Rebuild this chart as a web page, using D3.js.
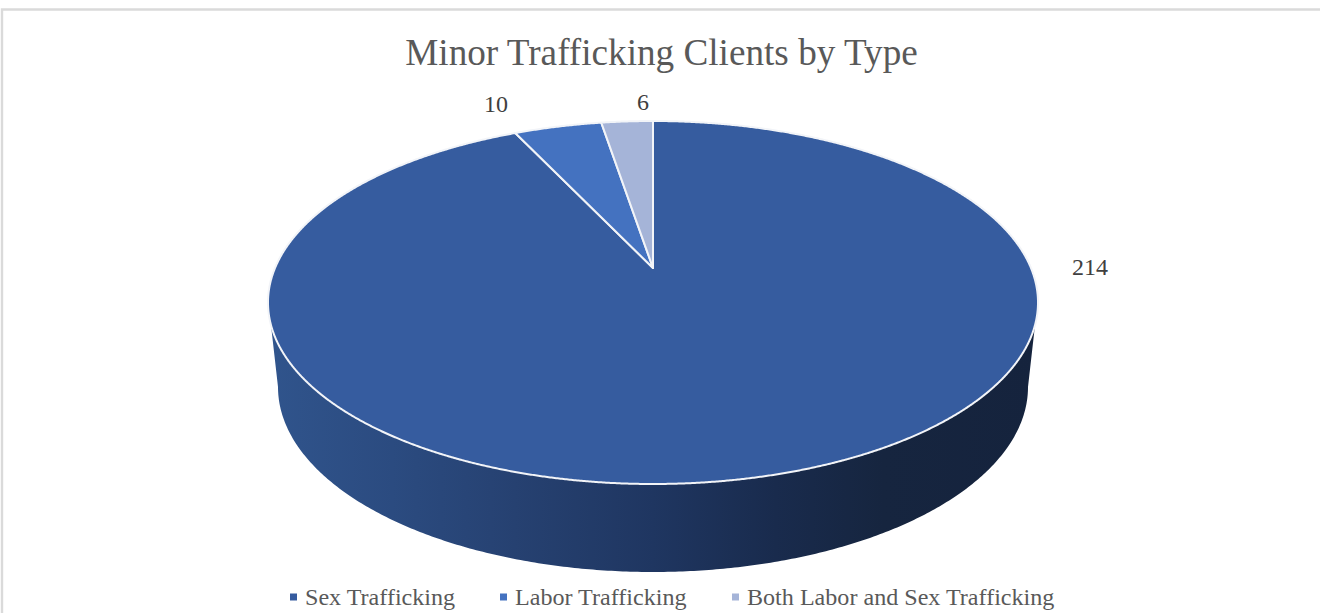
<!DOCTYPE html>
<html><head><meta charset="utf-8">
<script src="https://cdn.jsdelivr.net/npm/d3@7"></script>
<style>html,body{margin:0;padding:0;background:#fff}svg{display:block}text{font-family:"Liberation Serif",serif}</style>
</head><body><svg id="c" width="1320" height="613"></svg>
<script>
const titleText = "Minor Trafficking Clients by Type";
const categories = ["Sex Trafficking","Labor Trafficking","Both Labor and Sex Trafficking"];
const values = [214,10,6];
const colors = ["#365C9F","#4472C0","#A5B4D8"];
const legendX = [305,515,747];
const labelPos = [[1090,275],[496,112],[643,110]];

const svg = d3.select("#c");
const cx=653, face={cy:302.5,rx:385,ry:181.5}, base={cy:387,rx:375,ry:185};
const apex=[653,268];
const squeeze=0.82;
// pie angle -> ellipse parameter (foreshortened by the tilted view)
const warp=a=>{const t=Math.atan2(Math.sin(a)*squeeze,Math.cos(a));return t<0?t+2*Math.PI:t;};
const pt=(e,t)=>[cx+e.rx*Math.sin(t),e.cy-e.ry*Math.cos(t)];

const defs=svg.append("defs");
const g=defs.append("linearGradient").attr("id","side").attr("gradientUnits","userSpaceOnUse")
  .attr("x1",270).attr("x2",1036).attr("y1",0).attr("y2",0);
[[0,"#30548C"],[0.16,"#2B4B80"],[0.32,"#264171"],[0.5,"#1F3661"],[0.66,"#192B4D"],[0.8,"#16253F"],[1,"#15233D"]]
 .forEach(([o,c])=>g.append("stop").attr("offset",o).attr("stop-color",c));

// frame
svg.append("path").attr("d","M2,613V9.5H1320").attr("fill","none").attr("stroke","#DADADA").attr("stroke-width",2.4);

// side wall
const line=d3.line();
const a0=Math.acos(-(325-face.cy)/face.ry); // right joint parameter
const a1=2*Math.PI-a0;                      // left joint parameter
const b0=Math.PI/2, b1=3*Math.PI/2;
const wall=[...d3.range(a0,a1,0.01).map(t=>pt(face,t)),pt(face,a1),
            ...d3.range(b1,b0,-0.01).map(t=>pt(base,t)),pt(base,b0)];
svg.append("path").attr("d",line(wall)+"Z").attr("fill","url(#side)");

// top slices, clockwise from 12 o'clock with the big slice first
const pie=d3.pie().sort(null).value(d=>d);
pie(values).forEach((d,i)=>{
  const s=warp(d.startAngle), e=d.endAngle>=2*Math.PI-1e-9?2*Math.PI:warp(d.endAngle);
  const pts=[apex,...d3.range(s,e,0.004).map(t=>pt(face,t)),pt(face,e)];
  svg.append("path").attr("d",line(pts)+"Z").attr("fill",colors[i]).attr("stroke","#F2F4F8").attr("stroke-width",2).attr("stroke-linejoin","round");
});

svg.append("text").attr("x",661.5).attr("y",65).attr("text-anchor","middle").attr("font-size",37.2).attr("fill","#595959").text(titleText);

values.forEach((v,i)=>svg.append("text").attr("x",labelPos[i][0]).attr("y",labelPos[i][1]).attr("text-anchor","middle")
  .attr("font-size",24).attr("fill","#404040").text(v));

categories.forEach((c,i)=>{
  svg.append("rect").attr("x",legendX[i]-15).attr("y",593.5).attr("width",7).attr("height",7).attr("fill",colors[i]);
  svg.append("text").attr("x",legendX[i]).attr("y",605).attr("font-size",24.1).attr("fill","#595959").text(c);
});
</script></body></html>
